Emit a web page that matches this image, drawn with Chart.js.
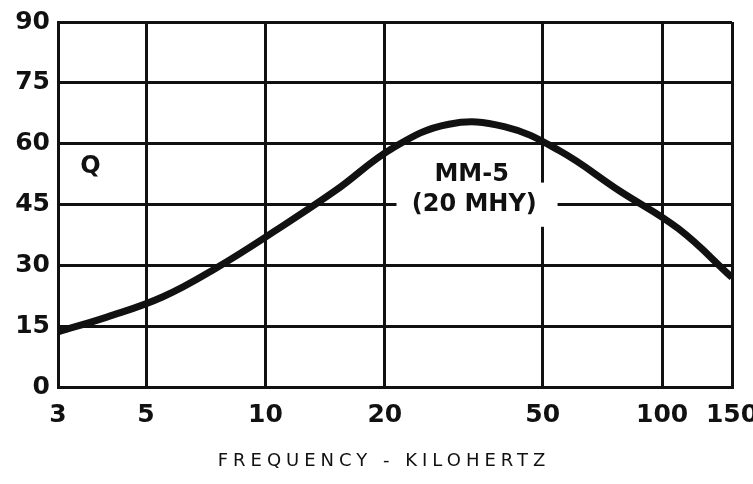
<!DOCTYPE html>
<html>
<head>
<meta charset="utf-8">
<script src="https://cdn.jsdelivr.net/npm/chart.js@4/dist/chart.umd.min.js"></script>
<style>
  html, body { margin: 0; padding: 0; background: #fff; }
  #wrap { width: 753px; height: 484px; }
</style>
</head>
<body>
<div id="wrap"><canvas id="qChart" width="753" height="484"></canvas></div>
<script>
// frequency in kHz and Q
var freqs  = [3,    4,    5.5,  7.5,  10.5, 15,   21, 29,   40,   55,   78,   110, 150];
var qVals  = [13.6, 17.3, 22.2, 29.3, 38.3, 48.4, 59, 64.8, 64.2, 58.3, 48.4, 39,  27];
var xTicks = [3, 5, 10, 20, 50, 100, 150];
var yTicks = [0, 15, 30, 45, 60, 75, 90];

var ink = '#111';
var tickFont = { family: 'DejaVu Sans', size: 25, weight: 'bold' };

// labels drawn on the plot (Q, curve name with white box behind it)
var notes = {
  id: 'notes',
  beforeDatasetsDraw: function (chart) {
    var c = chart.ctx, xs = chart.scales.x, ys = chart.scales.y;
    var x1 = xs.getPixelForValue(21.4), x2 = xs.getPixelForValue(54.5);
    var y1 = ys.getPixelForValue(50.4), y2 = ys.getPixelForValue(39.5);
    c.save();
    c.fillStyle = '#fff';
    c.fillRect(x1, y1, x2 - x1, y2 - y1);
    c.restore();
  },
  afterDraw: function (chart) {
    var c = chart.ctx, xs = chart.scales.x, ys = chart.scales.y;
    c.save();
    c.fillStyle = ink;
    c.textAlign = 'center';
    c.textBaseline = 'middle';
    c.font = 'bold 24px "DejaVu Sans"';
    c.fillText('Q', xs.getPixelForValue(3.62), ys.getPixelForValue(54.3));
    c.fillText('MM-5', xs.getPixelForValue(33.1), ys.getPixelForValue(52.3));
    c.fillText('(20 MHY)', xs.getPixelForValue(33.6), ys.getPixelForValue(44.9));
    // axis title, letter spaced
    c.font = '18px "DejaVu Sans"';
    c.fillStyle = '#111';
    c.letterSpacing = '5px';
    c.fillText('FREQUENCY - KILOHERTZ', 384, 461);
    c.restore();
  }
};

new Chart(document.getElementById('qChart'), {
  type: 'line',
  data: {
    datasets: [{
      data: freqs.map(function (f, i) { return { x: f, y: qVals[i] }; }),
      borderColor: ink,
      borderWidth: 7,
      pointRadius: 0,
      tension: 0.4,
      fill: false
    }]
  },
  options: {
    responsive: false,
    animation: false,
    devicePixelRatio: 1,
    layout: { padding: { top: 22, right: 21, left: 0, bottom: 0 } },
    plugins: { legend: { display: false }, tooltip: { enabled: false } },
    scales: {
      x: {
        type: 'logarithmic',
        min: 3,
        max: 150,
        afterBuildTicks: function (s) { s.ticks = xTicks.map(function (v) { return { value: v }; }); },
        afterFit: function (s) { s.height = 97; s.paddingLeft = 0; s.paddingRight = 0; },
        grid: { color: ink, lineWidth: 3, drawTicks: false },
        border: { color: ink, width: 3 },
        ticks: {
          color: ink,
          font: tickFont,
          padding: 13,
          maxRotation: 0,
          autoSkip: false,
          callback: function (v) { return String(v); }
        }
      },
      y: {
        min: 0,
        max: 90,
        afterBuildTicks: function (s) { s.ticks = yTicks.map(function (v) { return { value: v }; }); },
        afterFit: function (s) { s.width = 58; s.paddingTop = 0; s.paddingBottom = 0; },
        grid: { color: ink, lineWidth: 3, drawTicks: false },
        border: { color: ink, width: 3 },
        ticks: { color: ink, font: tickFont, padding: 8 }
      }
    }
  },
  plugins: [notes]
});
</script>
</body>
</html>
